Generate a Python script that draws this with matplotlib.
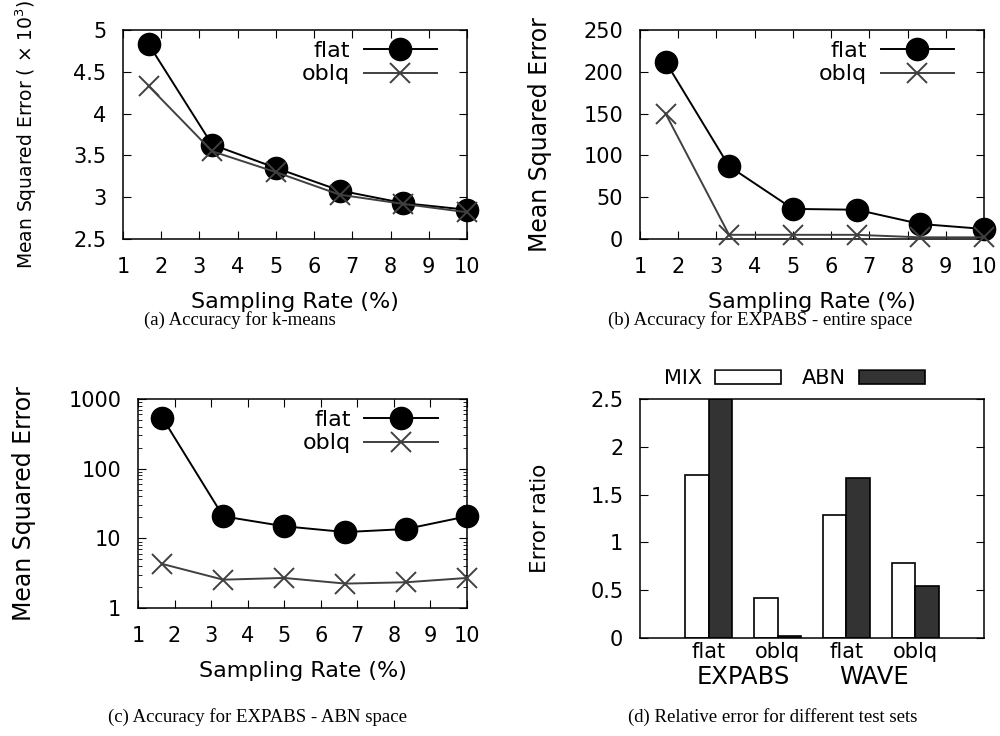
import matplotlib.pyplot as plt
from matplotlib.patches import Rectangle

plt.rcParams['font.family'] = 'DejaVu Sans'
plt.rcParams['font.size'] = 15

# sampling rates (%)
rate = [1.67, 3.33, 5.0, 6.67, 8.33, 10.0]

# (a) k-means, MSE in thousands
km_flat = [4.83, 3.63, 3.35, 3.08, 2.93, 2.85]
km_oblq = [4.33, 3.55, 3.30, 3.03, 2.92, 2.82]

# (b) EXPABS entire space
ent_flat = [212, 87, 36, 35, 18, 12]
ent_oblq = [150, 5, 5, 5, 2, 2]

# (c) EXPABS ABN space (log scale)
abn_flat = [533, 20.7, 14.9, 12.3, 13.6, 20.7]
abn_oblq = [4.28, 2.55, 2.70, 2.24, 2.34, 2.70]

# (d) relative error ratios
bar_cats = ['flat', 'oblq', 'flat', 'oblq']
groups = ['EXPABS', 'WAVE']
mix_ratio = [1.70, 0.42, 1.29, 0.78]
abn_ratio = [2.5, 0.02, 1.67, 0.54]

W, H = 1000, 736
fig = plt.figure(figsize=(W / 100, H / 100), dpi=100)


def box(left, right, top, bottom):
    return [left / W, 1 - bottom / H, (right - left) / W, (bottom - top) / H]


def style(ax, top=True):
    ax.tick_params(direction='in', top=top, right=True, length=6, width=0.8,
                   labelsize=15)
    ax.tick_params(axis='x', pad=13)
    ax.tick_params(axis='y', pad=12)
    for s in ax.spines.values():
        s.set_linewidth(1.1)


def lines(ax, x, flat, oblq):
    ax.plot(x, flat, color='black', lw=1.4, marker='o', ms=16,
            label='flat', clip_on=False, zorder=3)
    ax.plot(x, oblq, color='#404040', lw=1.4, marker='x', ms=15, mew=1.4,
            label='oblq', clip_on=False, zorder=3)
    ax.set_xlim(1, 10)
    ax.set_xticks(range(1, 11))
    ax.set_xlabel('Sampling Rate (%)', labelpad=11, fontsize=16)
    ax.legend(loc='upper right', frameon=False, markerfirst=False,
              handlelength=3.3, labelspacing=0.15, borderaxespad=0.2,
              borderpad=0.3, handletextpad=0.6, fontsize=16,
              bbox_to_anchor=(0.945, 1.0))
    style(ax)


ax1 = fig.add_axes(box(123, 467, 30, 239))
lines(ax1, rate, km_flat, km_oblq)
ax1.set_ylim(2.5, 5)
ax1.set_yticks([2.5, 3, 3.5, 4, 4.5, 5])
ax1.set_yticklabels(['2.5', '3', '3.5', '4', '4.5', '5'])
ax1.set_ylabel('Mean Squared Error ( × 10$^3$)', fontsize=13.5)
ax1.yaxis.set_label_coords(-0.245, 0.5)

ax2 = fig.add_axes(box(640, 984, 30, 239))
lines(ax2, rate, ent_flat, ent_oblq)
ax2.set_ylim(0, 250)
ax2.set_yticks(range(0, 251, 50))
ax2.set_ylabel('Mean Squared Error', fontsize=17)
ax2.yaxis.set_label_coords(-0.257, 0.5)

ax3 = fig.add_axes(box(138, 467, 399, 608))
ax3.set_yscale('log')
lines(ax3, rate, abn_flat, abn_oblq)
ax3.set_ylim(1, 1000)
ax3.set_yticks([1, 10, 100, 1000])
ax3.set_yticklabels(['1', '10', '100', '1000'])
ax3.tick_params(which='minor', direction='in', right=True, length=3)
ax3.set_ylabel('Mean Squared Error', fontsize=17)
ax3.yaxis.set_label_coords(-0.31, 0.5)

# (d) grouped bars
ax4 = fig.add_axes(box(640, 984, 399, 638))
pos = list(range(len(bar_cats)))
bw = 0.34
ax4.bar([p - bw / 2 for p in pos], mix_ratio, bw, color='white',
        edgecolor='black', lw=1.2, label='MIX')
ax4.bar([p + bw / 2 for p in pos], abn_ratio, bw, color='#333333',
        edgecolor='black', lw=1.2, label='ABN')
ax4.set_xlim(-1, 4)
ax4.set_ylim(0, 2.5)
ax4.set_yticks([0, 0.5, 1, 1.5, 2, 2.5])
ax4.set_yticklabels(['0', '0.5', '1', '1.5', '2', '2.5'])
ax4.set_xticks(pos)
ax4.set_xticklabels(bar_cats, fontsize=14)
style(ax4, top=False)
ax4.tick_params(axis='x', length=0, pad=3)
ax4.set_ylabel('Error ratio', fontsize=15.5)
ax4.yaxis.set_label_coords(-0.262, 0.5)
for g, gx in zip(groups, [0.5, 2.4]):
    ax4.text(gx, -0.165, g, transform=ax4.get_xaxis_transform(),
             ha='center', va='center', fontsize=17.5)
ax4.legend(loc='lower center', bbox_to_anchor=(0.45, 1.045), ncol=2,
           frameon=False, markerfirst=False, handlelength=3.2,
           handleheight=0.7, columnspacing=1.0, handletextpad=0.6,
           borderaxespad=0.0, borderpad=0.0)

# trim the top of the bar legend like the cropped panel
fig.patches.append(Rectangle((600 / W, 1 - 367.5 / H), 400 / W, 30 / H,
                             transform=fig.transFigure, color='white',
                             zorder=5))

capfont = dict(family='Liberation Serif', fontsize=13.5, ha='center',
               va='center')
fig.text(240 / W, 1 - 320 / H, '(a) Accuracy for k-means', **capfont)
fig.text(760 / W, 1 - 320 / H, '(b) Accuracy for EXPABS - entire space',
         zorder=6, **capfont)
fig.text(258 / W, 1 - 717 / H, '(c) Accuracy for EXPABS - ABN space', **capfont)
fig.text(773 / W, 1 - 717 / H, '(d) Relative error for different test sets',
         **capfont)

fig.savefig('out.png', dpi=100)
